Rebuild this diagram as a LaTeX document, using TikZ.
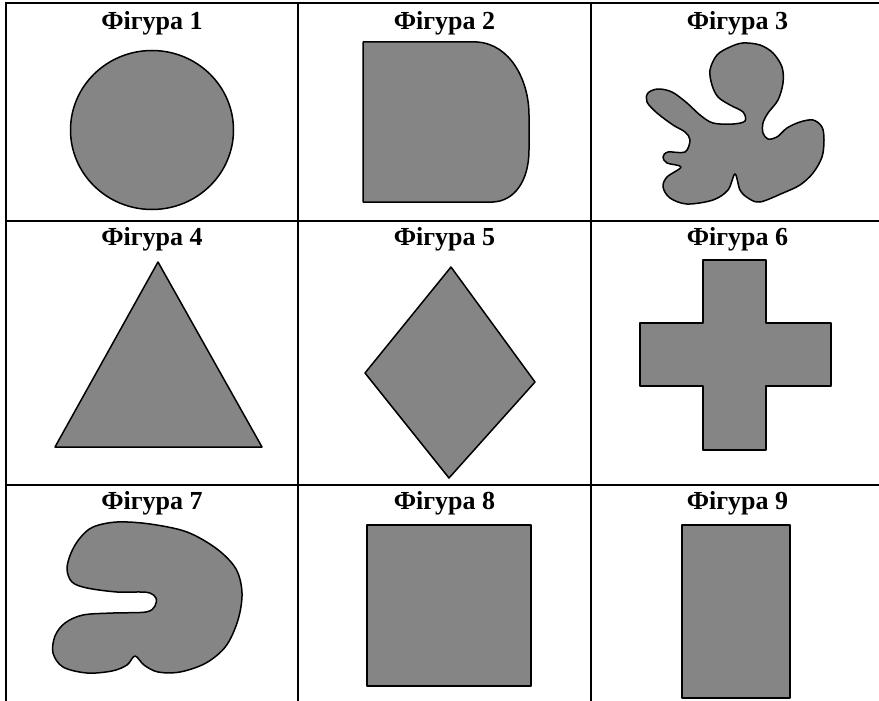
\documentclass[tikz,border=0pt]{standalone}
\usepackage{fontspec}
\setmainfont{Liberation Serif}
\definecolor{shapegray}{gray}{0.52}
\begin{document}
\begin{tikzpicture}[x=1pt,y=-1pt,
  shp/.style={fill=shapegray, draw=black, line width=1.5pt, line join=round},
  gridline/.style={line width=2.2pt},
  lbl/.style={font=\bfseries\fontsize{26}{30}\selectfont, anchor=base, inner sep=0pt}]
\useasboundingbox (0,0) rectangle (879,701);
\clip (0,0) rectangle (879,701);
% table
\draw[gridline] (6,3) rectangle (884,706);
\draw[gridline] (298,3) -- (298,706);
\draw[gridline] (591,3) -- (591,706);
\draw[gridline] (6,221) -- (884,221);
\draw[gridline] (6,485) -- (884,485);
% labels
\node[lbl] (l1) at (152,30) {Фігура 1};
\node[lbl] (l2) at (444.5,30) {Фігура 2};
\node[lbl] (l3) at (737.5,30) {Фігура 3};
\node[lbl] (l4) at (152,245) {Фігура 4};
\node[lbl] (l5) at (444.5,245) {Фігура 5};
\node[lbl] (l6) at (737.5,245) {Фігура 6};
\node[lbl] (l7) at (152,509) {Фігура 7};
\node[lbl] (l8) at (444.5,509) {Фігура 8};
\node[lbl] (l9) at (737.5,509) {Фігура 9};
% shape 1: circle
\draw[shp] (152,130) ellipse [x radius=81.5pt, y radius=79.5pt];
% shape 2: D shape
\draw[shp] (363,42) -- (477,42) .. controls (510,44) and (529,80) .. (529,115)
  -- (529,150) .. controls (529,180) and (515,201) .. (493,202) -- (363,202) -- cycle;
% shape 3: blob
\draw[shp] plot[smooth cycle, tension=0.55] coordinates {
 (743,43) (760,45) (773,53) (782,67) (783,83) (778,100) (768,113) (763,123)
 (763,133) (768,139) (777,137) (787,128) (800,122) (813,120) (822,127) (824,140)
 (822,157) (813,173) (800,185) (783,193) (760,202) (748,198) (740,190) (735,174)
 (728,190) (713,200) (687,204) (670,198) (663,187) (667,177) (681,167) (667,163)
 (663,157) (668,152) (685,152) (690,140) (685,132) (673,125) (657,113) (647,102)
 (648,93) (658,89) (672,92) (687,103) (700,115) (713,123) (733,124) (745,121)
 (743,112) (730,105) (718,97) (712,85) (710,70) (717,55) (730,47)};
% shape 4: triangle
\draw[shp] (158,262) -- (262,447) -- (55,447) -- cycle;
% shape 5: diamond
\draw[shp] (451,267) -- (535,382) -- (449,478) -- (365,373) -- cycle;
% shape 6: cross
\draw[shp] (703,260) -- (766,260) -- (766,323) -- (831,323) -- (831,386) -- (766,386)
  -- (766,450) -- (703,450) -- (703,386) -- (640,386) -- (640,323) -- (703,323) -- cycle;
% shape 7: blob
\draw[shp] plot[smooth cycle, tension=0.55] coordinates {
 (93,527) (117,522) (150,524) (187,532) (217,549) (236,569) (242,593) (238,620)
 (226,646) (206,663) (180,672) (158,672) (144,665) (135,656) (127,665) (112,671)
 (87,673) (63,667) (53,653) (55,636) (65,623) (83,615) (113,613) (146,612)
 (155,606) (156,598) (150,593) (140,592) (117,592) (87,588) (72,582) (67,569)
 (71,553) (80,538)};
% shape 8: square
\draw[shp] (367,525) rectangle (531,686);
% shape 9: rectangle
\draw[shp] (682,525) rectangle (790,698);
\end{tikzpicture}
\end{document}
